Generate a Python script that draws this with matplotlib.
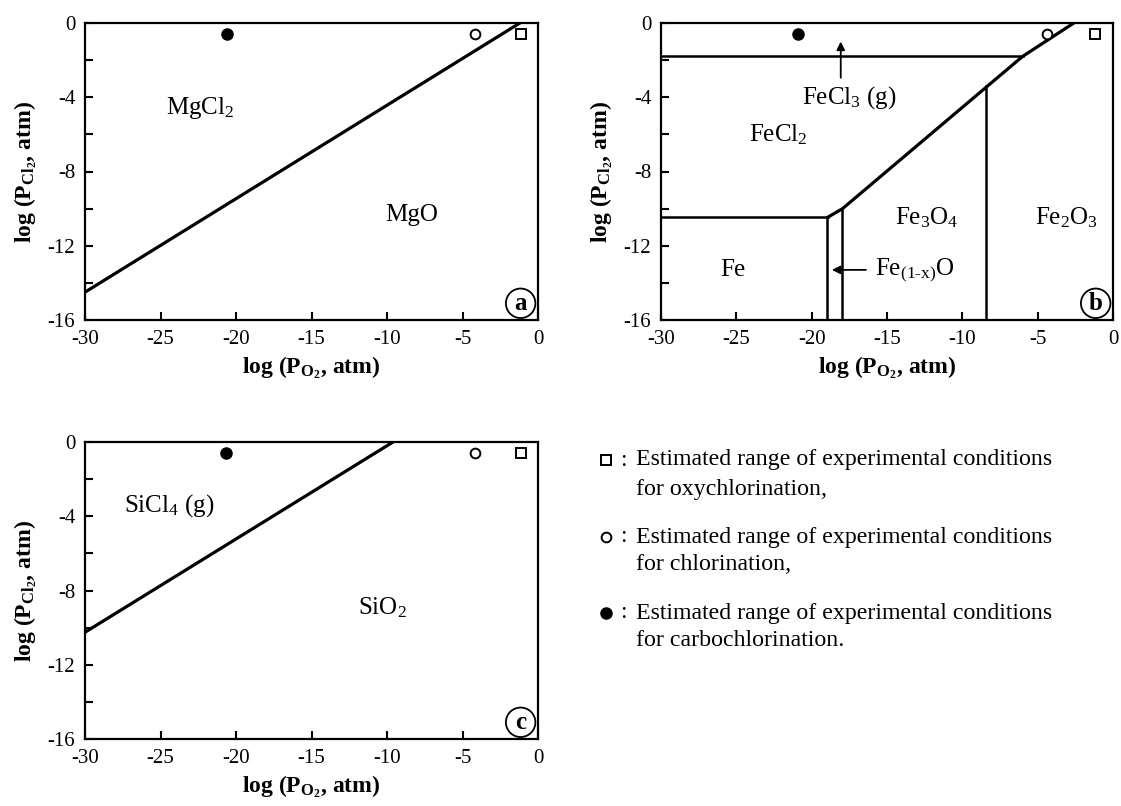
import matplotlib
matplotlib.use('Agg')
import matplotlib.pyplot as plt
from matplotlib.ticker import MultipleLocator

plt.rcParams['font.family'] = ['Liberation Serif', 'DejaVu Serif']
plt.rcParams['mathtext.fontset'] = 'custom'
plt.rcParams['mathtext.rm'] = 'Liberation Serif'
plt.rcParams['mathtext.it'] = 'Liberation Serif:italic'
plt.rcParams['mathtext.bf'] = 'Liberation Serif:bold'
plt.rcParams['axes.unicode_minus'] = False

# experimental condition markers (log PO2), one value per panel a, b, c
filled_x = [-20.6, -20.9, -20.65]
open_x = [-4.2, -4.4, -4.2]
square_x = [-1.1, -1.2, -1.1]
marker_y = -0.6

# panel a: MgCl2 / MgO boundary
mg_x = [-30, -1.2]
mg_y = [-14.5, 0]

# panel c: SiCl4 / SiO2 boundary
si_x = [-30, -9.6]
si_y = [-10.25, 0]

# panel b: Fe-Cl-O boundaries
fecl3_x = [-30, -6.0]
fecl3_y = [-1.8, -1.8]
fe_upper_x = [-2.6, -6.0, -17.95, -18.9]
fe_upper_y = [0, -1.8, -10.0, -10.45]
fe_fecl2_x = [-30, -18.9]
fe_fecl2_y = [-10.45, -10.45]
vert_x = [-18.95, -18.0, -8.45]
vert_top = [-10.45, -10.0, -3.4]

legend_lines = [
    'Estimated range of experimental conditions', 'for oxychlorination,',
    'Estimated range of experimental conditions', 'for chlorination,',
    'Estimated range of experimental conditions', 'for carbochlorination.',
]

W, H = 1121, 806
fig = plt.figure(figsize=(W / 100, H / 100), dpi=100)


def px_axes(left, top, right, bottom):
    return fig.add_axes([left / W, 1 - bottom / H, (right - left) / W, (bottom - top) / H])


def setup(ax, letter):
    ax.set_xlim(-30, 0)
    ax.set_ylim(-16, 0)
    ax.xaxis.set_major_locator(MultipleLocator(5))
    ax.yaxis.set_major_locator(MultipleLocator(4))
    ax.yaxis.set_minor_locator(MultipleLocator(2))
    ax.tick_params(which='both', direction='in', length=6, width=1.5,
                   top=False, right=False, labelsize=15, pad=7)
    for s in ax.spines.values():
        s.set_linewidth(1.6)
    ax.set_xlabel(r'log ($\mathbf{P_{O_2}}$, atm)', fontsize=17, fontweight='bold', labelpad=4)
    ax.set_ylabel(r'log ($\mathbf{P_{Cl_2}}$, atm)', fontsize=17, fontweight='bold', labelpad=6)
    ax.text(-1.15, -15.1, letter, fontsize=18, fontweight='bold', ha='center', va='center',
            bbox=dict(boxstyle='circle,pad=0.13', fc='white', ec='black', lw=1.3))


def markers(ax, i):
    ax.plot(filled_x[i], marker_y, 'o', color='black', ms=8, clip_on=False)
    ax.plot(open_x[i], marker_y, 'o', mfc='white', mec='black', mew=1.4, ms=7, clip_on=False)
    ax.plot(square_x[i], marker_y, 's', mfc='white', mec='black', mew=1.4, ms=7.5, clip_on=False)


# panel a
ax_a = px_axes(85, 23, 538, 320)
setup(ax_a, 'a')
ax_a.plot(mg_x, mg_y, color='black', lw=2.3)
markers(ax_a, 0)
ax_a.text(-22.4, -4.6, r'MgCl$_2$', fontsize=18, ha='center', va='center')
ax_a.text(-8.4, -10.35, 'MgO', fontsize=18, ha='center', va='center')

# panel b
ax_b = px_axes(661, 23, 1113, 320)
setup(ax_b, 'b')
ax_b.plot(fecl3_x, fecl3_y, color='black', lw=1.8)
ax_b.plot(fe_upper_x, fe_upper_y, color='black', lw=2.3)
ax_b.plot(fe_fecl2_x, fe_fecl2_y, color='black', lw=1.8)
for x, yt in zip(vert_x, vert_top):
    ax_b.plot([x, x], [yt, -16], color='black', lw=1.8)
markers(ax_b, 1)
ax_b.text(-22.2, -6.0, r'FeCl$_2$', fontsize=18, ha='center', va='center')
ax_b.text(-12.4, -10.5, r'Fe$_3$O$_4$', fontsize=18, ha='center', va='center')
ax_b.text(-3.1, -10.5, r'Fe$_2$O$_3$', fontsize=18, ha='center', va='center')
ax_b.text(-25.2, -13.3, 'Fe', fontsize=18, ha='center', va='center')
ax_b.text(-17.5, -4.0, r'FeCl$_3$ (g)', fontsize=18, ha='center', va='center')
ax_b.annotate('', xy=(-18.07, -1.0), xytext=(-18.07, -2.95),
              arrowprops=dict(arrowstyle='-|>', color='black', lw=1.3,
                              mutation_scale=12, shrinkA=0, shrinkB=0))
ax_b.text(-15.8, -13.3, r'Fe$_{\text{(1-x)}}$O', fontsize=18, ha='left', va='center')
ax_b.annotate('', xy=(-18.66, -13.3), xytext=(-16.4, -13.3),
              arrowprops=dict(arrowstyle='-|>', color='black', lw=1.3,
                              mutation_scale=12, shrinkA=0, shrinkB=0))

# panel c
ax_c = px_axes(85, 442, 538, 739)
setup(ax_c, 'c')
ax_c.plot(si_x, si_y, color='black', lw=2.3)
markers(ax_c, 2)
ax_c.text(-24.4, -3.42, r'SiCl$_4$ (g)', fontsize=18, ha='center', va='center')
ax_c.text(-10.3, -8.9, r'SiO$_2$', fontsize=18, ha='center', va='center')

# legend block
ax_l = px_axes(560, 400, 1121, 700)
ax_l.set_xlim(560, 1121)
ax_l.set_ylim(700, 400)
ax_l.axis('off')
rows = [460, 537, 613]
sub = [489, 565, 640]
ax_l.plot(606, rows[0], 's', mfc='white', mec='black', mew=1.4, ms=7)
ax_l.plot(606, rows[1], 'o', mfc='white', mec='black', mew=1.4, ms=7)
ax_l.plot(606, rows[2], 'o', color='black', ms=8)
for i in range(3):
    ax_l.text(620, rows[i], ':', fontsize=17, va='center', ha='left')
    ax_l.text(636, rows[i], legend_lines[2 * i], fontsize=17.2, va='center', ha='left')
    ax_l.text(636, sub[i], legend_lines[2 * i + 1], fontsize=17.2, va='center', ha='left')

fig.savefig('out.png', dpi=100)
